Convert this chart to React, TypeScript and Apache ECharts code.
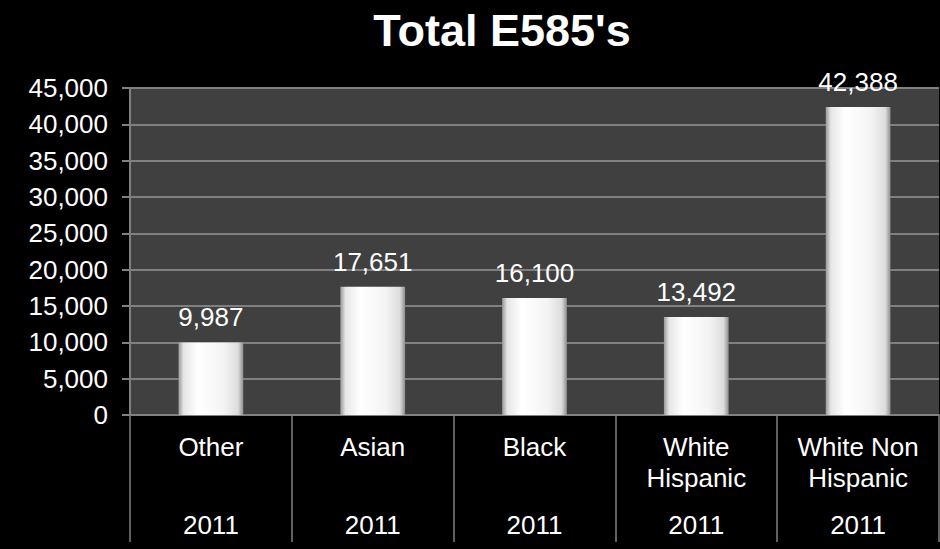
import React, { useEffect, useRef } from "react";
import * as echarts from "echarts";

const title = "Total E585's";
const categories = ["Other", "Asian", "Black", "White\nHispanic", "White Non\nHispanic"];
const yearLabels = ["2011", "2011", "2011", "2011", "2011"];
const values = [9987, 17651, 16100, 13492, 42388];
const yMin = 0;
const yMax = 45000;
const yInterval = 5000;

const FONT = "'Liberation Sans', Arial, sans-serif";
const fmt = (v: number) => v.toLocaleString("en-US");

export default function App() {
  const ref = useRef<HTMLDivElement>(null);
  useEffect(() => {
    if (!ref.current) return;
    const chart = echarts.init(ref.current, null, { renderer: "svg" });
    const barColor = new echarts.graphic.LinearGradient(0, 0, 1, 0, [
      { offset: 0, color: "#9a9a9a" },
      { offset: 0.08, color: "#e6e6e6" },
      { offset: 0.3, color: "#ffffff" },
      { offset: 0.7, color: "#f4f4f4" },
      { offset: 0.92, color: "#dcdcdc" },
      { offset: 1, color: "#8f8f8f" },
    ]);
    chart.setOption({
      animation: false,
      backgroundColor: "#000000",
      title: {
        text: title,
        top: 3,
        left: 497,
        textAlign: "center",
        textStyle: { color: "#ffffff", fontSize: 45, fontWeight: "bold", fontFamily: FONT },
      },
      grid: {
        left: 130,
        right: 1,
        top: 88,
        bottom: 134,
        show: true,
        backgroundColor: "#404040",
        borderWidth: 0,
      },
      xAxis: [
        {
          type: "category",
          data: categories,
          position: "bottom",
          axisLine: { show: true, lineStyle: { color: "#808080", width: 2 } },
          axisTick: {
            show: true,
            interval: 0,
            length: 127,
            lineStyle: { color: "#808080", width: 1.5 },
          },
          axisLabel: {
            interval: 0,
            margin: 16,
            color: "#ffffff",
            fontSize: 26,
            lineHeight: 31,
            fontFamily: FONT,
          },
        },
        {
          type: "category",
          data: yearLabels.map((y, i) => y + "\u200b".repeat(i)),
          position: "bottom",
          axisLine: { show: false },
          axisTick: { show: false },
          axisLabel: {
            interval: 0,
            margin: 94,
            color: "#ffffff",
            fontSize: 26,
            lineHeight: 31,
            fontFamily: FONT,
          },
        },
      ],
      yAxis: {
        type: "value",
        min: yMin,
        max: yMax,
        interval: yInterval,
        axisLine: { show: true, lineStyle: { color: "#808080", width: 2 } },
        axisTick: { show: true, length: 8, lineStyle: { color: "#808080", width: 2 } },
        splitLine: { show: true, lineStyle: { color: "#808080", width: 2 } },
        axisLabel: {
          margin: 22,
          color: "#ffffff",
          fontSize: 26,
          fontFamily: FONT,
          formatter: (v: number) => fmt(v),
        },
      },
      series: [
        {
          type: "bar",
          data: values,
          barWidth: "40%",
          itemStyle: { color: barColor },
          label: {
            show: true,
            position: "top",
            distance: 12,
            color: "#ffffff",
            fontSize: 26,
            fontFamily: FONT,
            formatter: (p: any) => fmt(p.value),
          },
        },
      ],
    });
    return () => chart.dispose();
  }, []);
  return (
    <div style={{ position: "fixed", left: 0, top: 0, width: 940, height: 549, background: "#000" }}>
      <div ref={ref} style={{ width: 940, height: 549 }} />
    </div>
  );
}
